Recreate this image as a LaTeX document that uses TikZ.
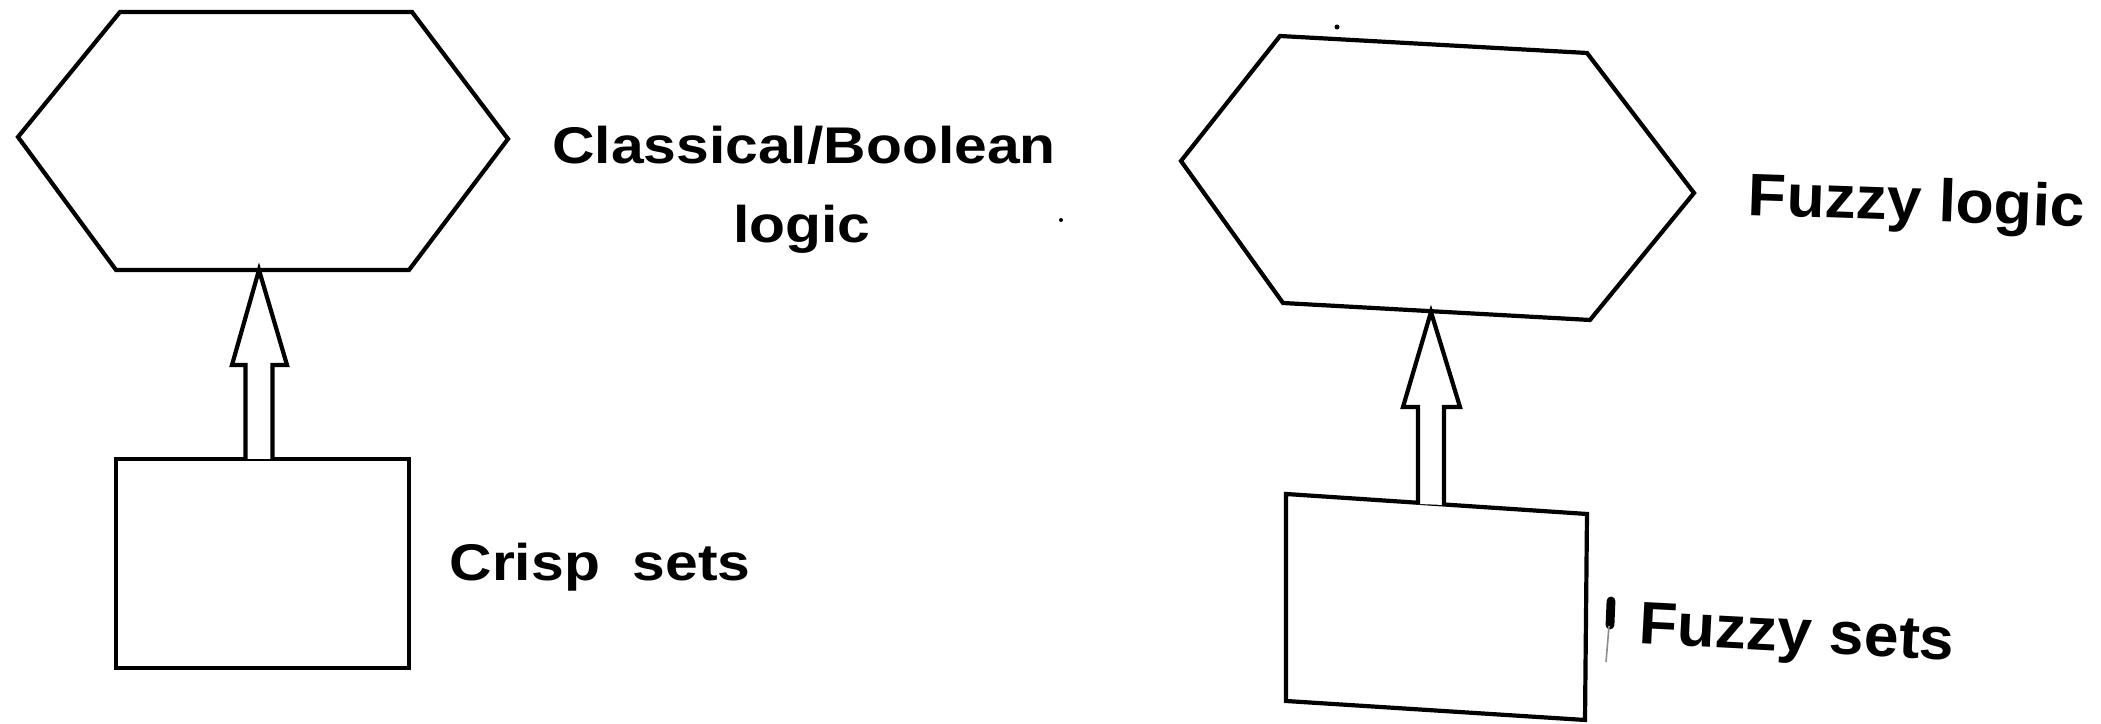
\documentclass[tikz,border=0pt]{standalone}
\usepackage{fontspec}
\usetikzlibrary{calc}
\newfontfamily\leftlabelfont[FakeStretch=1.14]{Liberation Sans Bold}
\newfontfamily\rightlabelfont[FakeStretch=1.04]{Liberation Sans Bold}

\begin{document}
\begin{tikzpicture}[x=0.25pt,y=-0.25pt,
  outline/.style={draw=black,line width=1.05pt,line join=miter},
  blockarrow/.style={outline,fill=white},
  lefttext/.style={anchor=base,inner sep=0pt,font=\leftlabelfont\fontsize{12.9}{15}\selectfont},
  righttext/.style={anchor=base,inner sep=0pt,font=\rightlabelfont\fontsize{15}{18}\selectfont},
]
\useasboundingbox (0,0) rectangle (2101,724);
\fill[white] (0,0) rectangle (2101,724);

% ---------- classical side ----------
\coordinate (lhA) at (120,12);
\coordinate (lhB) at (412,12);
\coordinate (lhC) at (508,139);
\coordinate (lhD) at (409,270);
\coordinate (lhE) at (116,270);
\coordinate (lhF) at (18,137);
\draw[outline] (lhA) -- (lhB) -- (lhC) -- (lhD) -- (lhE) -- (lhF) -- cycle;

\coordinate (lbA) at (116,459);
\coordinate (lbB) at (409,459);
\coordinate (lbC) at (409,668);
\coordinate (lbD) at (116,668);
\draw[outline] (lbA) -- (lbB) -- (lbC) -- (lbD) -- cycle;

\coordinate (ltip) at (259,270);
\coordinate (lfoot) at (259,459);
\draw[blockarrow] ($(lfoot)+(-13.5,0)$) -- ($(ltip)+(-13.5,95)$) -- ($(ltip)+(-27,95)$)
  -- (ltip) -- ($(ltip)+(28,95)$) -- ($(ltip)+(13.5,95)$) -- ($(lfoot)+(13.5,0)$);

\node[lefttext] (lclassical) at (804,164) {Classical/Boolean};
\node[lefttext] (llogic) at (802,243) {logic};
\node[lefttext] (lcrisp) at (600,581) {Crisp\ \ sets};

% ---------- fuzzy side ----------
\coordinate (rhA) at (1280,36);
\coordinate (rhB) at (1587,53);
\coordinate (rhC) at (1694,193);
\coordinate (rhD) at (1590,320);
\coordinate (rhE) at (1283,303);
\coordinate (rhF) at (1181,161);
\draw[outline] (rhA) -- (rhB) -- (rhC) -- (rhD) -- (rhE) -- (rhF) -- cycle;

\coordinate (rbA) at (1286,494);
\coordinate (rbB) at (1587,514);
\coordinate (rbC) at (1585,720);
\coordinate (rbD) at (1286,701);
\draw[outline] (rbA) -- (rbB) -- (rbC) -- (rbD) -- cycle;

\coordinate (rtip) at (1431,312);
\coordinate (rfoot) at (1431,504);
\draw[blockarrow] ($(rfoot)+(-13,0)$) -- ($(rtip)+(-13,95)$) -- ($(rtip)+(-28,95)$)
  -- (rtip) -- ($(rtip)+(29,95)$) -- ($(rtip)+(13,95)$) -- ($(rfoot)+(13,1)$);

\node[righttext,rotate=-2] (rlogic) at (1916,221) {Fuzzy logic};
\node[righttext,rotate=-3] (rsets) at (1796,652) {Fuzzy sets};

% small marks of the print
\draw[line width=2.2pt,line cap=round] (1611,601) -- (1610,625);
\draw[line width=0.4pt,black!45] (1609,626) -- (1606,662);
\fill (1337,27) circle (2.5);
\fill (1061,220) circle (2);
\end{tikzpicture}
\end{document}
